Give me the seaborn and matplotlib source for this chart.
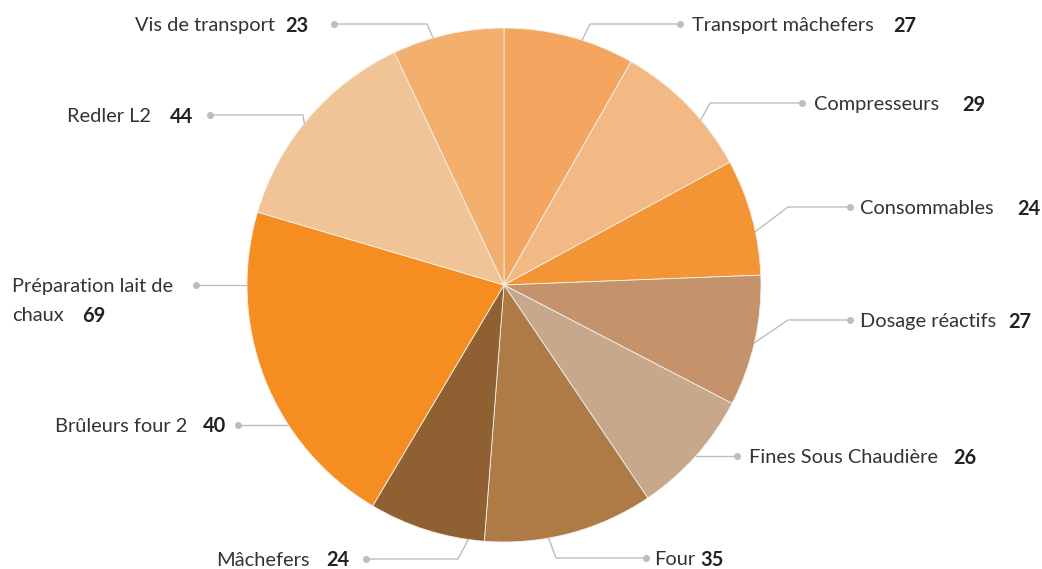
import numpy as np
import seaborn as sns
import matplotlib.pyplot as plt

# data
categories = ["Transport mâchefers", "Compresseurs", "Consommables", "Dosage réactifs",
              "Fines Sous Chaudière", "Four", "Mâchefers", "Brûleurs four 2",
              "Préparation lait de chaux", "Redler L2", "Vis de transport"]
values = [27, 29, 24, 27, 26, 35, 24, 40, 69, 44, 23]
# the Brûleurs slice is not drawn in the original, only its label
drawn = [True, True, True, True, True, True, True, False, True, True, True]
colors = ["#F4A661", "#F3B984", "#F39535", "#C4926B", "#C8A88C", "#AE7A45",
          "#8F6132", "#FFFFFF", "#F58D20", "#F1C497", "#F2AF6E"]

W, H = 1042, 569
cx, cy, r = 504, 285, 257

sns.set_theme(style="white")
plt.rcParams['font.family'] = ['Lato', 'DejaVu Sans']
FS = 14.4

fig = plt.figure(figsize=(W / 100, H / 100), dpi=100)
ax = fig.add_axes([0, 0, 1, 1])

def fy(y):
    # picture y (top down) -> axes y
    return H - y

pie_vals = [v for v, d in zip(values, drawn) if d]
pie_cols = [c for c, d in zip(colors, drawn) if d]
ax.pie(pie_vals, colors=pie_cols, startangle=90, counterclock=False,
       center=(cx, fy(cy)), radius=r,
       wedgeprops=dict(edgecolor="#F4F1EC", linewidth=0.6))

# label layout: label x, value x, y, dot x, elbow x, anchor angle (deg from top, clockwise)
layout = {
    "Transport mâchefers": (692, 893, 24, 680, 590, 17.7),
    "Compresseurs": (814, 962, 103, 802, 710, 50),
    "Consommables": (860, 1017, 207, 850, 788, 78),
    "Dosage réactifs": (860, 1008, 320, 850, 788, 103),
    "Fines Sous Chaudière": (749, 953, 456, 737, None, None),
    "Four": (654, 700, 558, 646, 556, 170),
    "Mâchefers": (216, 326, 559, 366, 458, 188),
    "Brûleurs four 2": (55, 203, 425, 238, None, None),
    "Préparation lait de chaux": (12, 82, 285, 196, None, None),
    "Redler L2": (67, 170, 115, 210, 303, 309),
    "Vis de transport": (135, 285, 24, 334, 427, 344),
}

line_col = "#BDBDBD"
for name, val in zip(categories, values):
    lx, vx, y, dotx, elbx, ang = layout[name]
    if ang is None:
        dy = y - cy
        ex = cx + np.sign(dotx - cx) * np.sqrt(r ** 2 - dy ** 2)
        xs, ys = [dotx, ex], [y, y]
    else:
        a = np.radians(ang)
        ex, ey = cx + r * np.sin(a), cy - r * np.cos(a)
        xs, ys = [dotx, elbx, ex], [y, y, ey]
    ax.plot(xs, [fy(v) for v in ys], color=line_col, lw=1, zorder=1)
    ax.plot([dotx], [fy(y)], "o", color=line_col, ms=4, zorder=3)

    ty = y + 1.5
    if name == "Préparation lait de chaux":
        ax.text(lx, fy(ty), "Préparation lait de", fontsize=FS, color="#333333",
                ha="left", va="center")
        ax.text(lx, fy(ty + 29), "chaux", fontsize=FS, color="#333333",
                ha="left", va="center")
        ax.text(vx, fy(ty + 29), str(val), fontsize=FS, color="#222222",
                fontweight="bold", ha="left", va="center")
    else:
        ax.text(lx, fy(ty), name, fontsize=FS, color="#333333", ha="left", va="center")
        ax.text(vx, fy(ty), str(val), fontsize=FS, color="#222222",
                fontweight="bold", ha="left", va="center")

ax.set_xlim(0, W)
ax.set_ylim(0, H)
ax.set_aspect("auto")
ax.axis("off")

fig.savefig("out.png", dpi=100, facecolor="white")
